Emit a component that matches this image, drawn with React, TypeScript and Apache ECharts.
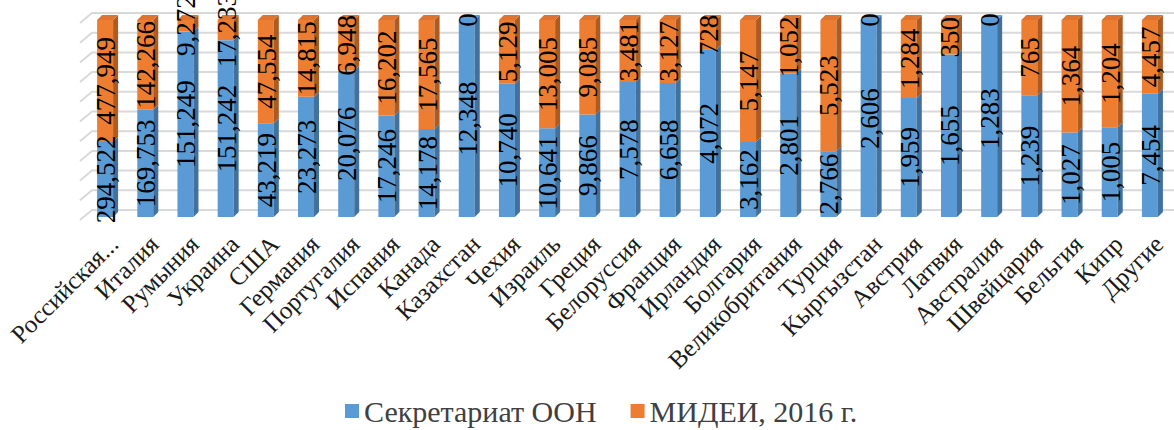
import React, { useEffect, useRef } from "react";
import * as echarts from "echarts";

const categories = [
  "Российская...", "Италия", "Румыния", "Украина", "США", "Германия", "Португалия",
  "Испания", "Канада", "Казахстан", "Чехия", "Израиль", "Греция", "Белоруссия",
  "Франция", "Ирландия", "Болгария", "Великобритания", "Турция", "Кыргызстан",
  "Австрия", "Латвия", "Австралия", "Швейцария", "Бельгия", "Кипр", "Другие",
];

const secretariat = [
  294522, 169753, 151249, 151242, 43219, 23273, 20076, 17246, 14178, 12348, 10740,
  10641, 9866, 7578, 6658, 4072, 3162, 2801, 2766, 2606, 1959, 1655, 1283, 1239,
  1027, 1005, 7454,
];

const midei = [
  477949, 142266, 9272, 17233, 47554, 14815, 6948, 16202, 17565, 0, 5129, 13005,
  9085, 3481, 3127, 728, 5147, 1052, 5523, 0, 1284, 350, 0, 765, 1364, 1204, 4457,
];

const seriesNames = ["Секретариат ООН", "МИДЕИ, 2016 г."];
const percentTicks = [0, 10, 20, 30, 40, 50, 60, 70, 80, 90, 100];

const FONT = '"Liberation Serif", "Times New Roman", serif';

function fmt(v: number): string {
  return String(v).replace(/\B(?=(\d{3})+(?!\d))/g, ",");
}

const BW = 16;
const DX = 5;
const DY = 5;

const blueFaces = { front: "#5B9BD5", side: "#41719C", top: "#5E9CD6" };
const orangeFaces = { front: "#ED7D31", side: "#AE5A21", top: "#DE7430" };

function makeBar(c: { front: string; side: string; top: string }) {
  return (params: any, api: any) => {
    const i = api.value(0);
    const v0 = api.value(1);
    const v1 = api.value(2);
    const b = api.coord([i, v0]);
    const t = api.coord([i, v1]);
    const xl = b[0] - BW / 2;
    const xr = xl + BW;
    const children: any[] = [];
    if (b[1] - t[1] > 0.01) {
      children.push({
        type: "rect",
        shape: { x: xl, y: t[1], width: BW, height: b[1] - t[1] },
        style: { fill: c.front },
      });
      children.push({
        type: "polygon",
        shape: {
          points: [
            [xr, b[1]],
            [xr, t[1]],
            [xr + DX, t[1] - DY],
            [xr + DX, b[1] - DY],
          ],
        },
        style: { fill: c.side },
      });
      if (v1 >= 99.999) {
        children.push({
          type: "polygon",
          shape: {
            points: [
              [xl, t[1]],
              [xr, t[1]],
              [xr + DX, t[1] - DY],
              [xl + DX, t[1] - DY],
            ],
          },
          style: { fill: c.top },
        });
      }
    }
    return { type: "group", children };
  };
}

export default function App() {
  const ref = useRef<HTMLDivElement>(null);

  useEffect(() => {
    if (!ref.current) return;
    const chart = echarts.init(ref.current, null, { renderer: "svg" });

    const blueData = categories.map((_, i) => {
      const total = secretariat[i] + midei[i];
      const p = (secretariat[i] / total) * 100;
      return [i, 0, p, secretariat[i]];
    });
    const orangeData = categories.map((_, i) => {
      const total = secretariat[i] + midei[i];
      const p = (secretariat[i] / total) * 100;
      return [i, p, 100, midei[i]];
    });
    const labelData = [...blueData, ...orangeData];

    const option: any = {
      animation: false,
      backgroundColor: "#ffffff",
      grid: {
        left: 85,
        right: 4,
        top: 20,
        bottom: 213,
        containLabel: false,
        outerBoundsMode: "none",
      },
      legend: {
        data: seriesNames,
        left: 340,
        top: 391,
        icon: "rect",
        itemWidth: 14,
        itemHeight: 14,
        itemGap: 34,
        textStyle: { fontSize: 30, fontFamily: FONT, color: "#404040" },
      },
      xAxis: {
        type: "category",
        data: categories,
        axisLine: { show: false },
        axisTick: { show: false },
        splitLine: { show: false },
        axisLabel: {
          interval: 0,
          rotate: 45,
          fontSize: 25,
          fontFamily: FONT,
          color: "#1a1a1a",
          margin: 14,
          verticalAlign: "top",
        },
      },
      yAxis: {
        type: "value",
        min: 0,
        max: 100,
        interval: 10,
        show: false,
      },
      series: [
        {
          type: "custom",
          name: "grid-wall",
          silent: true,
          z: 1,
          clip: false,
          data: percentTicks.map((v) => [0, v]),
          encode: { x: 0, y: 1 },
          renderItem: (params: any, api: any) => {
            const cs = params.coordSys;
            const y = api.coord([0, api.value(1)])[1];
            return {
              type: "polyline",
              shape: {
                points: [
                  [cs.x - 5, y + 3],
                  [cs.x + 7, y - 7],
                  [cs.x + cs.width + 20, y - 7],
                ],
              },
              style: { stroke: "#D9D9D9", lineWidth: 2, fill: null },
            };
          },
        },
        {
          type: "custom",
          name: seriesNames[0],
          z: 2,
          clip: false,
          itemStyle: { color: blueFaces.front },
          data: blueData,
          encode: { x: 0, y: [1, 2] },
          renderItem: makeBar(blueFaces),
        },
        {
          type: "custom",
          name: seriesNames[1],
          z: 3,
          clip: false,
          itemStyle: { color: orangeFaces.front },
          data: orangeData,
          encode: { x: 0, y: [1, 2] },
          renderItem: makeBar(orangeFaces),
        },
        {
          type: "custom",
          name: "labels",
          z: 10,
          silent: true,
          clip: false,
          data: labelData,
          encode: { x: 0, y: [1, 2] },
          renderItem: (params: any, api: any) => {
            const i = api.value(0);
            const v0 = api.value(1);
            const v1 = api.value(2);
            const raw = api.value(3);
            const p = api.coord([i, (v0 + v1) / 2]);
            return {
              type: "text",
              x: p[0] + 1,
              y: p[1],
              rotation: Math.PI / 2,
              style: {
                text: fmt(raw),
                fill: "#000000",
                fontSize: 27,
                fontFamily: FONT,
                align: "center",
                verticalAlign: "middle",
              },
            };
          },
        },
      ],
    };

    chart.setOption(option);
    return () => {
      chart.dispose();
    };
  }, []);

  return (
    <div
      ref={ref}
      style={{ position: "absolute", left: 0, top: 0, width: 1174, height: 430 }}
    />
  );
}
